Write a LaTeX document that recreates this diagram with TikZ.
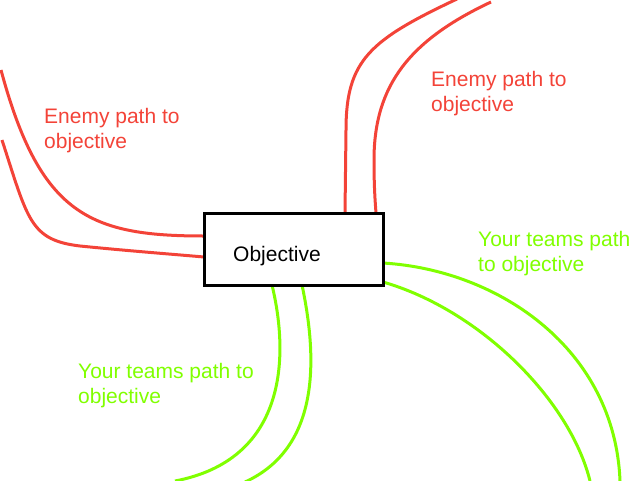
\documentclass[tikz,border=0pt]{standalone}
\usepackage{fontspec}
\setmainfont{Liberation Sans}
\definecolor{enemyred}{RGB}{243,67,56}
\definecolor{teamgreen}{RGB}{128,255,0}
\begin{document}
\begin{tikzpicture}[x=1pt,y=-1pt,
  enemypath/.style={draw=enemyred,line width=3pt},
  teampath/.style={draw=teamgreen,line width=3pt},
  lbl/.style={anchor=north west,inner sep=0pt,align=left,font=\fontsize{21}{25}\selectfont},
  objbox/.style={draw=black,line width=3pt,fill=white,minimum width=179pt,minimum height=72pt,inner sep=0pt}
]
\useasboundingbox (0,0) rectangle (640,480);
% free ends
\coordinate (e1s) at (1,70);
\coordinate (e2s) at (2,140);
\coordinate (e3s) at (457,-1);
\coordinate (e4s) at (491,2);
\coordinate (g1s) at (620,481);
\coordinate (g2s) at (590,481);
\coordinate (g3s) at (175,481);
\coordinate (g4s) at (245,482);
% paths (drawn first, box on top)
\draw[enemypath] (e1s) .. controls (40,215) and (90,236) .. (204,236);
\draw[enemypath] (e2s) .. controls (28,220) and (30,240) .. (80,246) .. controls (130,251) and (170,254) .. (204,257);
\draw[enemypath] (e3s) .. controls (370,40) and (346,60) .. (346,130) -- (345,213);
\draw[enemypath] (e4s) .. controls (410,40) and (374,85) .. (374,160) .. controls (374,185) and (375,200) .. (376,213);
\draw[teampath] (383,263) .. controls (500,270) and (615,350) .. (g1s);
\draw[teampath] (383,282) .. controls (480,310) and (570,400) .. (g2s);
\draw[teampath] (272,285) .. controls (290,360) and (285,460) .. (g3s);
\draw[teampath] (302,285) .. controls (320,370) and (315,450) .. (g4s);
% objective box
\node[objbox] (obj) at (293.5,249) {};
\node[anchor=base west,inner sep=0pt,font=\fontsize{21}{25}\selectfont] (objtext) at (233,261) {Objective};
% labels
\node[lbl,text=enemyred] (enemyleft) at (44,108) {Enemy path to\\objective};
\node[lbl,text=enemyred] (enemyright) at (431,71) {Enemy path to\\objective};
\node[lbl,text=teamgreen] (teamright) at (478,231) {Your teams path\\to objective};
\node[lbl,text=teamgreen] (teamleft) at (78,363) {Your teams path to\\objective};
\end{tikzpicture}
\end{document}
